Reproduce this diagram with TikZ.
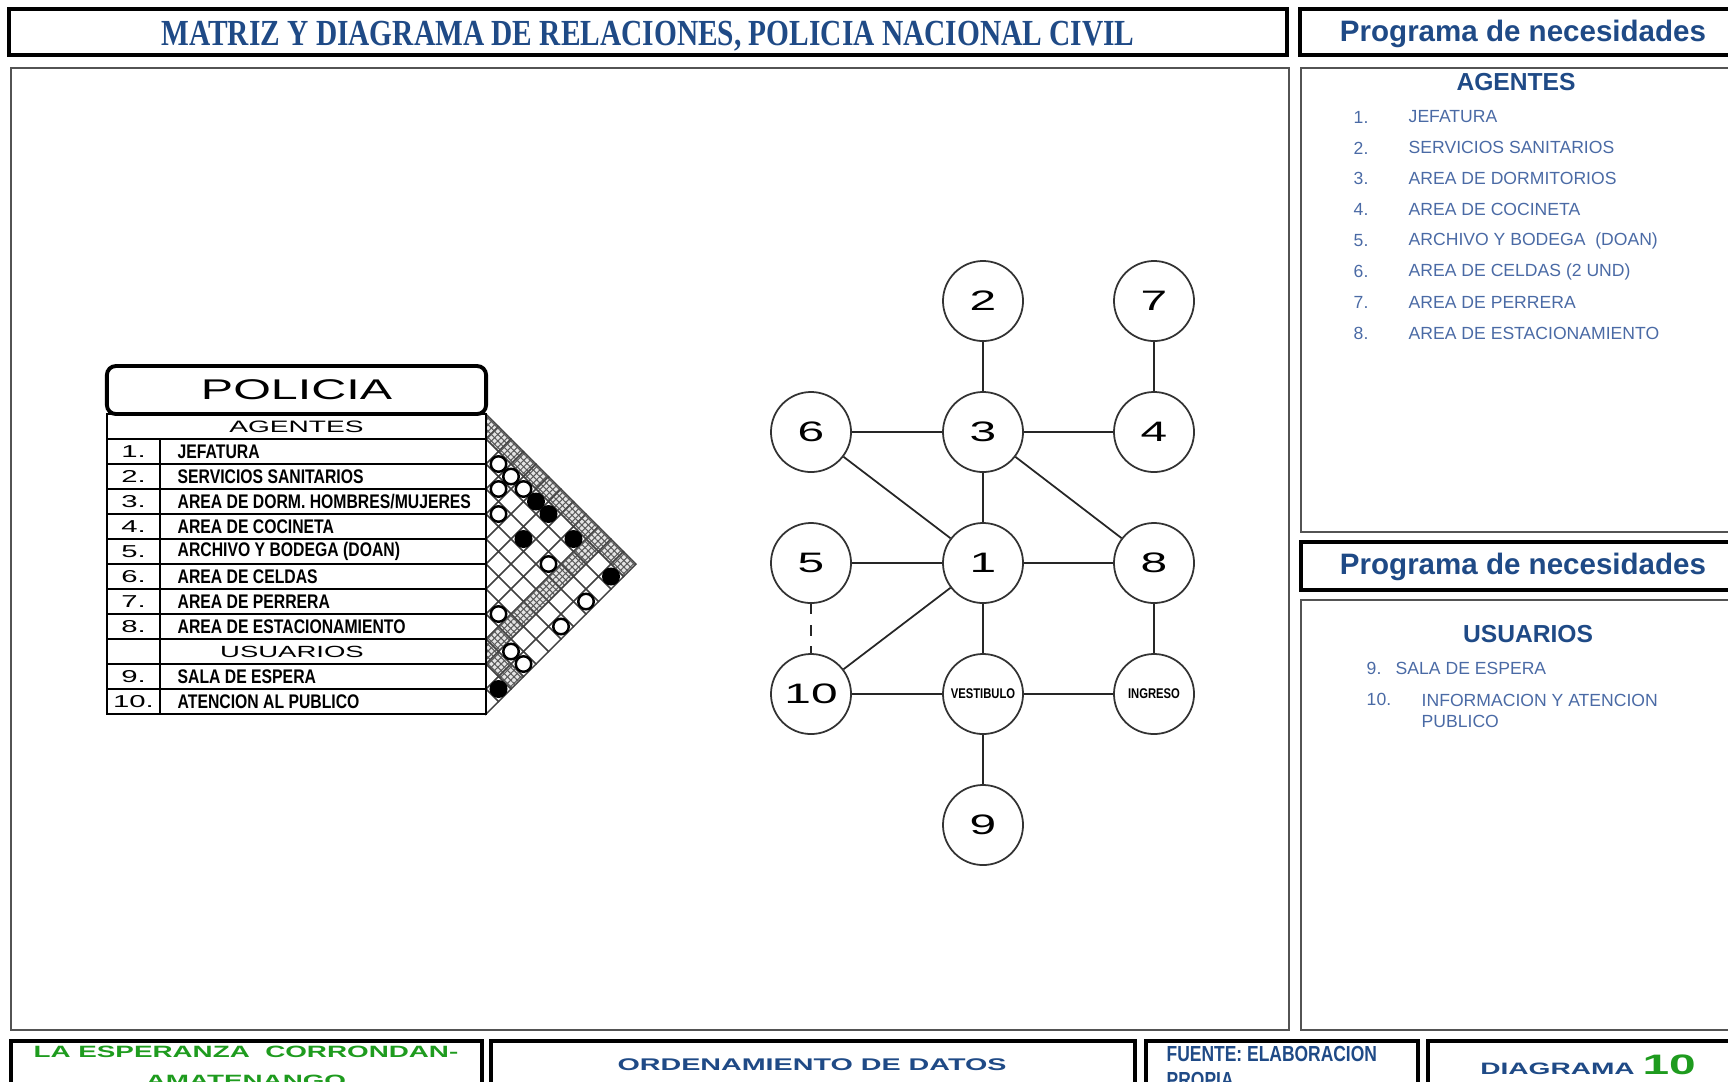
\documentclass[tikz,border=0pt]{standalone}
\usepackage{fontspec}
\setmainfont{Liberation Sans}
\newfontfamily\widefont[FakeStretch=1.7]{Liberation Sans}
\newfontfamily\titlefont[FakeStretch=0.8]{Liberation Serif}
\newfontfamily\narrowfont[FakeStretch=0.8]{Liberation Sans}
\usetikzlibrary{patterns.meta}
\definecolor{navy}{RGB}{31,74,134}
\definecolor{listblue}{RGB}{74,106,165}
\definecolor{leafgreen}{RGB}{30,155,30}
\colorlet{hatchgray}{gray!70!black}

\begin{document}
\begin{tikzpicture}[x=0.01cm, y=-0.01cm, every node/.style={inner sep=0pt},
    frame/.style={draw, line width=0.9pt},
    panel/.style={draw=gray!65!black, line width=0.8pt},
    circ/.style={draw=gray!40!black, circle, minimum size=0.8cm, line width=0.5pt, fill=white, font=\widefont\fontsize{8}{8}\selectfont},
    tinycirc/.style={circ, font=\narrowfont\bfseries\fontsize{4}{4}\selectfont},
    link/.style={draw=gray!30!black, line width=0.5pt},
    plaincell/.style={draw=gray!50!black, line width=0.4pt, fill=white},
    hatchcell/.style={draw=gray!50!black, line width=0.4pt, fill=gray!20,
        postaction={pattern={Lines[angle=45,distance=1.3pt,line width=0.3pt]}, pattern color=hatchgray},
        postaction={pattern={Lines[angle=-45,distance=1.3pt,line width=0.3pt]}, pattern color=hatchgray}},
    opendot/.style={draw, circle, fill=white, minimum size=0.155cm, line width=0.7pt},
    fulldot/.style={draw, circle, fill=black, minimum size=0.155cm, line width=0.7pt},
    rownum/.style={font=\widefont\fontsize{4.9}{5}\selectfont},
    rowtxt/.style={anchor=west, font=\narrowfont\bfseries\fontsize{5.6}{6}\selectfont},
    listtxt/.style={anchor=west, text=listblue, font=\fontsize{5}{6}\selectfont},
    hdr/.style={text=navy, font=\bfseries\fontsize{8.4}{9}\selectfont}]
\useasboundingbox (0,0) rectangle (1728,1081);

\draw[frame] (9,9) rectangle (1287,55);
\draw[frame] (1300,9) rectangle (1740,55);
\draw[panel] (11,68) rectangle (1289,1030);
\draw[panel] (1301,68) rectangle (1740,532);
\draw[frame] (1301,542) rectangle (1740,590);
\draw[panel] (1301,600) rectangle (1740,1030);
\draw[frame] (11,1041) rectangle (482,1095);
\draw[frame] (491,1041) rectangle (1135,1095);
\draw[frame] (1146,1041) rectangle (1418,1095);
\draw[frame] (1428,1041) rectangle (1740,1095);

\node[text=navy, font=\titlefont\bfseries\fontsize{10.45}{11}\selectfont] (title) at (648,36.5) {MATRIZ Y DIAGRAMA DE RELACIONES, POLICIA NACIONAL CIVIL};
\node[hdr] (prog1) at (1523,34) {Programa de necesidades};
\node[hdr] (prog2) at (1523,567) {Programa de necesidades};

\node[text=navy, font=\bfseries\fontsize{7}{7}\selectfont] (ag) at (1516,82) {AGENTES};
\foreach \t [count=\k] in {JEFATURA, SERVICIOS SANITARIOS, AREA DE DORMITORIOS, AREA DE COCINETA,
    ARCHIVO Y BODEGA~~(DOAN), AREA DE CELDAS (2 UND), AREA DE PERRERA, AREA DE ESTACIONAMIENTO}{
  \node[listtxt] (an\k) at (1353,{117+30.9*(\k-1)}) {\k.};
  \node[listtxt] (at\k) at (1408,{117+30.9*(\k-1)}) {\t};
}
\node[text=navy, font=\bfseries\fontsize{7}{7}\selectfont] (us) at (1528,634) {USUARIOS};
\node[listtxt] (un9) at (1366,668) {9.};
\node[listtxt] (ut9) at (1395,668) {SALA DE ESPERA};
\node[listtxt] (un10) at (1366,699) {10.};
\node[listtxt, align=left, anchor=north west] (ut10) at (1421,693) {INFORMACION Y ATENCION\\PUBLICO};

\node[text=leafgreen, align=center, font=\widefont\bfseries\fontsize{4.65}{8.2}\selectfont] (lugar) at (246,1066) {LA ESPERANZA~~CORRONDAN-\\AMATENANGO};
\node[text=navy, font=\widefont\bfseries\fontsize{4.8}{5}\selectfont] (orden) at (812,1065) {ORDENAMIENTO DE DATOS};
\node[text=navy, align=left, anchor=north west, font=\narrowfont\bfseries\fontsize{6.2}{7.2}\selectfont] (fuente) at (1166,1046) {FUENTE: ELABORACION\\PROPIA};
\node[text=navy, font=\widefont\bfseries\fontsize{4.7}{5}\selectfont] (diag) at (1588,1065) {DIAGRAMA~\textcolor{leafgreen}{\fontsize{8}{8}\selectfont 10}};

\foreach \i in {1,...,12}{
  \foreach \j in {\i,...,12}{
    \pgfmathsetmacro\cx{486+(\j-\i)*12.5}
    \pgfmathsetmacro\cy{414+(\i+\j-1)*12.5}
    \pgfmathtruncatemacro\shade{(\i==1)||(\i==10)||(\j==10)}
    \ifnum\shade=1 \tikzset{cellnow/.style={hatchcell}}\else\tikzset{cellnow/.style={plaincell}}\fi
    \ifnum\i=\j
      \draw[cellnow] (486,\cy-12.5) -- (\cx+12.5,\cy) -- (486,\cy+12.5) -- cycle;
    \else
      \draw[cellnow] (\cx-12.5,\cy) -- (\cx,\cy-12.5) -- (\cx+12.5,\cy) -- (\cx,\cy+12.5) -- cycle;
    \fi
  }
}
\foreach \i/\j [count=\k] in {2/3,2/4,3/4,2/5,4/5,4/9,4/12,8/9,6/12,9/11,9/12}
  \node[opendot] (o\k) at ({486+(\j-\i)*12.5},{414+(\i+\j-1)*12.5}) {};
\foreach \i/\j [count=\k] in {2/6,2/7,4/7,2/9,2/12,11/12}
  \node[fulldot] (f\k) at ({486+(\j-\i)*12.5},{414+(\i+\j-1)*12.5}) {};

\draw[line width=0.7pt] (107,414) rectangle (486,714);
\foreach \k in {1,...,11} \draw[line width=0.5pt] (107,{414+25*\k}) -- (486,{414+25*\k});
\draw[line width=0.7pt] (160,439) -- (160,714);
\node[draw, fill=white, rounded corners=0.09cm, line width=1.1pt, minimum width=3.79cm, minimum height=0.48cm,
    font=\widefont\fontsize{8.1}{8}\selectfont] (pol) at (296.5,390) {POLICIA};
\node[font=\widefont\fontsize{4.7}{5}\selectfont] (agt) at (296.5,427) {AGENTES};
\node[font=\widefont\fontsize{4.6}{5}\selectfont] (ust) at (292,651.5) {USUARIOS};
\foreach \n/\t/\r in {1./JEFATURA/2, 2./SERVICIOS SANITARIOS/3, 3./{AREA DE DORM. HOMBRES/MUJERES}/4,
    4./AREA DE COCINETA/5, 5./ARCHIVO Y BODEGA (DOAN)/6, 6./AREA DE CELDAS/7, 7./AREA DE PERRERA/8,
    8./AREA DE ESTACIONAMIENTO/9, 9./SALA DE ESPERA/11, 10./ATENCION AL PUBLICO/12}{
  \node[rownum] (rn\r) at (133.5,{414+25*\r-12.5}) {\n};
  \node[rowtxt] (rt\r) at (177,{414+25*\r-12.5}) {\t};
}

\node[circ] (n2) at (983,301) {2};
\node[circ] (n7) at (1154,301) {7};
\node[circ] (n6) at (811,432) {6};
\node[circ] (n3) at (983,432) {3};
\node[circ] (n4) at (1154,432) {4};
\node[circ] (n5) at (811,563) {5};
\node[circ] (n1) at (983,563) {1};
\node[circ] (n8) at (1154,563) {8};
\node[circ] (n10) at (811,694) {10};
\node[tinycirc] (ves) at (983,694) {VESTIBULO};
\node[tinycirc] (ing) at (1154,694) {INGRESO};
\node[circ] (n9) at (983,825) {9};
\draw[link] (n2) -- (n3);
\draw[link] (n7) -- (n4);
\draw[link] (n6) -- (n3);
\draw[link] (n3) -- (n4);
\draw[link] (n6) -- (n1);
\draw[link] (n3) -- (n1);
\draw[link] (n3) -- (n8);
\draw[link] (n5) -- (n1);
\draw[link] (n1) -- (n8);
\draw[link, dashed] (n5) -- (n10);
\draw[link] (n10) -- (n1);
\draw[link] (n1) -- (ves);
\draw[link] (n8) -- (ing);
\draw[link] (n10) -- (ves);
\draw[link] (ves) -- (ing);
\draw[link] (ves) -- (n9);
\end{tikzpicture}
\end{document}
